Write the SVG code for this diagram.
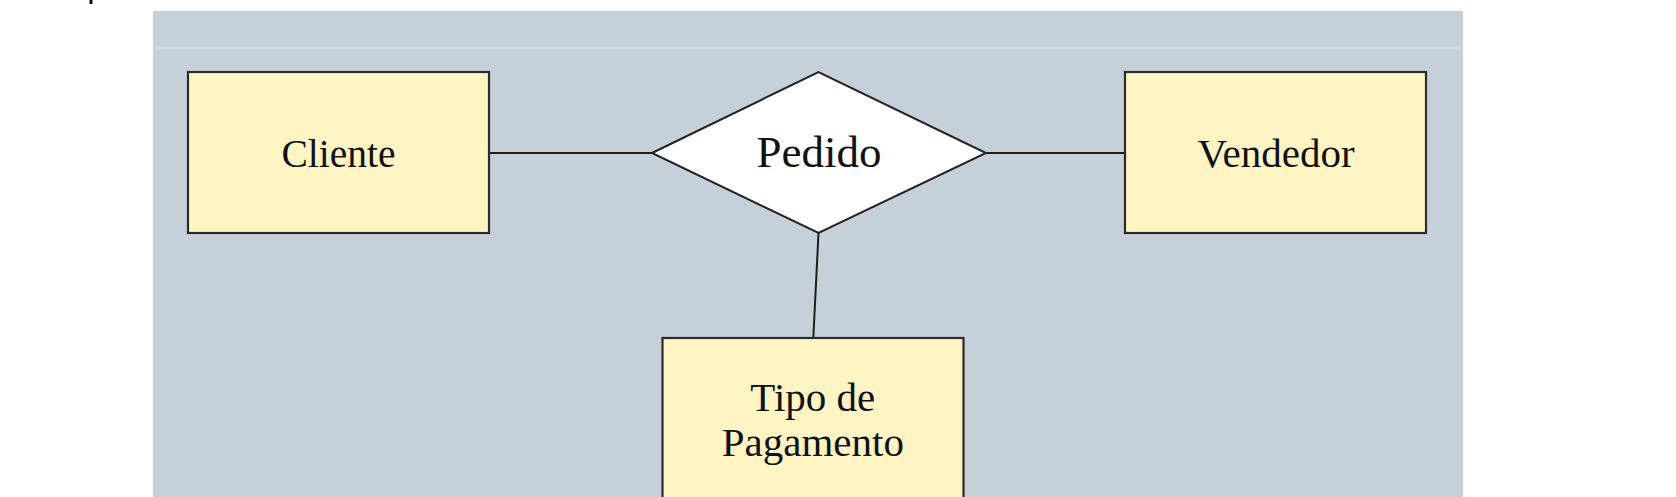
<svg xmlns="http://www.w3.org/2000/svg" width="1676" height="497" viewBox="0 0 1676 497">
<style>
.entity{fill:#fff5c4;stroke:#2b2b2b;stroke-width:2.2}
.rel{fill:#ffffff;stroke:#222;stroke-width:2}
.conn{stroke:#1e1e1e;stroke-width:2;fill:none}
.lbl{font-family:"Liberation Serif","Times New Roman",serif;font-size:41px;fill:#111;text-anchor:middle}
</style>
<rect x="0" y="0" width="1676" height="497" fill="#ffffff"/>
<rect x="89.5" y="0" width="3" height="4" fill="#111"/>
<rect x="153" y="11" width="1310" height="486" fill="#c5d0d8"/>
<rect x="153" y="47" width="1310" height="2" fill="#d2dbe1"/>
<g id="connectors">
<line class="conn" x1="489" y1="153" x2="652" y2="153"/>
<line class="conn" x1="986" y1="153" x2="1125" y2="153"/>
<line class="conn" x1="818.5" y1="233" x2="813.3" y2="338"/>
</g>
<g id="cliente">
<rect class="entity" x="188" y="72" width="301" height="161"/>
<text class="lbl" x="338.5" y="167" textLength="114" lengthAdjust="spacingAndGlyphs">Cliente</text>
</g>
<g id="pedido">
<polygon class="rel" points="652,153 818.5,72 986,153 818.5,233"/>
<text class="lbl" x="819" y="167" style="font-size:45px">Pedido</text>
</g>
<g id="vendedor">
<rect class="entity" x="1125" y="72" width="301" height="161"/>
<text class="lbl" x="1276" y="167">Vendedor</text>
</g>
<g id="tipo-de-pagamento">
<rect class="entity" x="662.5" y="338" width="301" height="170"/>
<text class="lbl" x="812.8" y="411">Tipo de</text>
<text class="lbl" x="812.8" y="456">Pagamento</text>
</g>
</svg>
